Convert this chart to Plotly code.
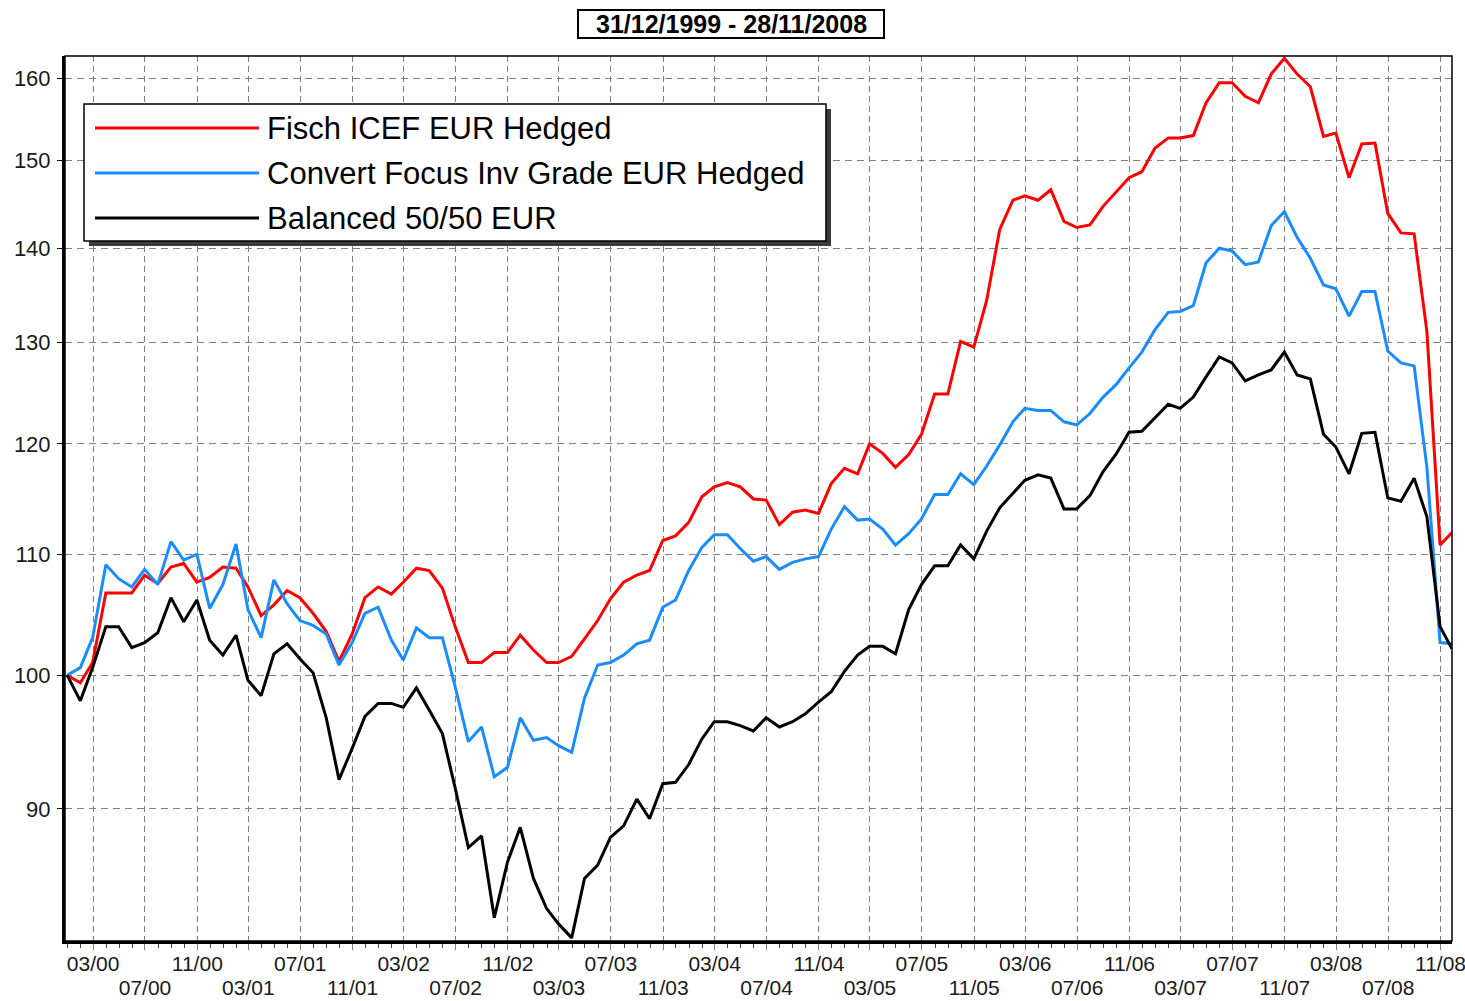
import calendar
import math
import plotly.graph_objects as go

# ---------------- data ----------------
# month-end dates 31/12/1999 .. 28/11/2008
dates = []
for yr in range(1999, 2009):
    for mo in range(1, 13):
        if (yr, mo) < (1999, 12) or (yr, mo) > (2008, 11):
            continue
        dates.append(f"{yr}-{mo:02d}-{calendar.monthrange(yr, mo)[1]:02d}")
dates[-1] = "2008-11-28"

fisch_icef = [
    100.0, 99.4, 101.0, 106.7, 106.7, 106.7, 108.2, 107.5, 108.9, 109.2, 107.6, 108.0,
    108.9, 108.8, 107.2, 104.8, 105.7, 106.9, 106.3, 105.0, 103.5, 101.1, 103.3, 106.3,
    107.2, 106.6, 107.6, 108.8, 108.6, 107.1, 103.9, 101.0, 101.0, 101.8, 101.8, 103.2,
    102.0, 101.0, 101.0, 101.5, 102.9, 104.4, 106.2, 107.6, 108.2, 108.6, 111.2, 111.6,
    112.8, 115.1, 116.0, 116.4, 116.0, 114.9, 114.8, 112.6, 113.7, 113.9, 113.6, 116.3,
    117.7, 117.2, 120.0, 119.1, 117.8, 119.0, 120.9, 124.8, 124.8, 130.1, 129.5, 134.3,
    142.1, 145.4, 145.9, 145.4, 146.6, 143.0, 142.3, 142.6, 144.7, 146.3, 148.0, 148.7,
    151.5, 152.7, 152.7, 153.0, 157.0, 159.5, 159.5, 157.8, 157.0, 160.6, 162.6, 160.6,
    159.0, 152.9, 153.3, 148.0, 152.0, 152.1, 143.9, 141.7, 141.6, 131.1, 110.8, 111.9,
]
convert_focus = [
    100.0, 100.6, 103.0, 109.1, 107.9, 107.2, 108.7, 107.4, 111.1, 109.5, 110.0, 105.4,
    107.4, 110.9, 105.3, 103.0, 107.8, 105.8, 104.4, 104.0, 103.3, 100.8, 102.6, 105.0,
    105.5, 102.8, 101.2, 103.8, 103.0, 103.0, 99.1, 94.9, 96.0, 92.3, 93.0, 96.7,
    95.0, 95.2, 94.6, 94.1, 98.2, 100.8, 101.0, 101.6, 102.5, 102.8, 105.5, 106.1,
    108.6, 110.6, 111.7, 111.7, 110.5, 109.4, 109.8, 108.7, 109.3, 109.6, 109.8, 112.2,
    114.2, 113.0, 113.1, 112.2, 110.8, 111.8, 113.1, 115.3, 115.3, 117.2, 116.2, 117.9,
    119.9, 122.1, 123.4, 123.2, 123.2, 122.1, 121.8, 122.9, 124.5, 125.7, 127.4, 129.0,
    131.3, 133.1, 133.2, 133.8, 138.4, 140.0, 139.7, 138.2, 138.5, 142.5, 144.1, 141.2,
    138.9, 136.0, 135.6, 132.7, 135.3, 135.3, 129.1, 127.9, 127.6, 117.8, 102.6, 102.5,
]
balanced = [
    100.0, 98.0, 100.6, 103.9, 103.9, 102.2, 102.6, 103.4, 106.3, 104.3, 106.1, 102.8,
    101.6, 103.2, 99.6, 98.4, 101.7, 102.5, 101.3, 100.2, 96.7, 92.1, 94.4, 96.8,
    97.8, 97.8, 97.5, 99.0, 97.3, 95.5, 91.5, 87.3, 88.1, 82.6, 86.3, 88.7,
    85.2, 83.2, 82.2, 81.3, 85.2, 86.1, 88.0, 88.8, 90.7, 89.3, 91.8, 91.9,
    93.2, 95.1, 96.4, 96.4, 96.1, 95.7, 96.7, 96.0, 96.4, 97.0, 97.9, 98.7,
    100.3, 101.6, 102.3, 102.3, 101.7, 105.3, 107.4, 109.0, 109.0, 110.8, 109.6, 112.0,
    114.1, 115.4, 116.6, 117.1, 116.8, 114.0, 114.0, 115.2, 117.4, 119.0, 121.1, 121.2,
    122.5, 123.8, 123.4, 124.5, 126.5, 128.5, 127.9, 126.1, 126.7, 127.2, 129.0, 126.7,
    126.3, 120.9, 119.7, 117.2, 121.0, 121.1, 115.0, 114.7, 116.8, 113.3, 103.9, 102.1,
]

series_names = ["Fisch ICEF EUR Hedged", "Convert Focus Inv Grade EUR Hedged", "Balanced 50/50 EUR"]
series_colors = ["#ff0000", "#1a8cff", "#000000"]

x_tick_labels = ["03/00", "07/00", "11/00", "03/01", "07/01", "11/01", "03/02", "07/02",
                 "11/02", "03/03", "07/03", "11/03", "03/04", "07/04", "11/04", "03/05",
                 "07/05", "11/05", "03/06", "07/06", "11/06", "03/07", "07/07", "11/07",
                 "03/08", "07/08", "11/08"]
x_tick_vals = ["20%s-%s-01" % (lab[3:], lab[:2]) for lab in x_tick_labels]
y_tick_vals = [90, 100, 110, 120, 130, 140, 150, 160]
title_text = "31/12/1999 - 28/11/2008"
x_range = ["1999-12-26", "2008-11-28"]

# ---------------- layout geometry (page pixel coords; body margin removed) ----------------
W, H = 1465, 1001
PLOT_L, PLOT_R, PLOT_T, PLOT_B = 65, 1452, 56, 941
L, T, R, B = PLOT_L, PLOT_T, W - PLOT_R, H - PLOT_B
PW, PH = PLOT_R - PLOT_L, PLOT_B - PLOT_T


def px(x):
    return (x - PLOT_L) / PW


def py(y):
    return (PLOT_B - y) / PH


FONT = "Liberation Sans, Arial, sans-serif"
GRID = "#808080"
TICKC = "#1a1a1a"

fig = go.Figure()
for name, vals, col in zip(series_names, [fisch_icef, convert_focus, balanced], series_colors):
    fig.add_trace(go.Scatter(x=dates, y=vals, name=name, mode="lines",
                             line=dict(color=col, width=3), showlegend=False))
# transparent copy bound to the second (label-row) x axis so that axis gets drawn
fig.add_trace(go.Scatter(x=dates, y=balanced, xaxis="x2", yaxis="y", mode="lines",
                         line=dict(color="rgba(0,0,0,0)", width=0), hoverinfo="skip",
                         showlegend=False))

row1 = [lab if i % 2 == 0 else "" for i, lab in enumerate(x_tick_labels)]
row2 = [lab if i % 2 == 1 else "" for i, lab in enumerate(x_tick_labels)]

fig.update_layout(
    width=W, height=H,
    margin=dict(l=L, r=R, t=T, b=B),
    paper_bgcolor="white", plot_bgcolor="white",
    font=dict(family=FONT, size=22, color=TICKC),
    xaxis=dict(
        type="date", range=x_range,
        tickmode="array", tickvals=x_tick_vals, ticktext=row1,
        showgrid=True, gridcolor=GRID, gridwidth=1, griddash="6px,4px",
        ticks="outside", ticklen=6, tickcolor=GRID, tickwidth=1,
        minor=dict(ticks="outside", ticklen=4, tickcolor="#444444", dtick="M1",
                   tick0="2000-01-01", showgrid=False),
        showline=True, linecolor="black", linewidth=3,
        zeroline=False, automargin=False, tickangle=0,
        tickfont=dict(family=FONT, size=21, color=TICKC),
        ticklabelstandoff=-4, ticklabeloverflow="allow",
    ),
    xaxis2=dict(
        type="date", range=x_range, overlaying="x", anchor="y",
        side="bottom", tickmode="array", tickvals=x_tick_vals, ticktext=row2,
        showgrid=False, ticks="outside", ticklen=6, tickcolor="rgba(0,0,0,0)",
        showline=False, zeroline=False, automargin=False, tickangle=0,
        tickfont=dict(family=FONT, size=21, color=TICKC),
        ticklabelstandoff=22, ticklabeloverflow="allow",
    ),
    yaxis=dict(
        type="log", range=[math.log10(81.1), math.log10(162.9)],
        tickmode="array", tickvals=y_tick_vals, ticktext=[str(v) for v in y_tick_vals],
        showgrid=True, gridcolor=GRID, gridwidth=1, griddash="7px,5px",
        ticks="outside", ticklen=5, tickcolor="black",
        showline=True, linecolor="black", linewidth=3,
        zeroline=False, automargin=False,
        tickfont=dict(family=FONT, size=22, color=TICKC),
        ticklabelstandoff=2,
    ),
)

shapes = []
# thin frame (top/right)
shapes.append(dict(type="rect", xref="paper", yref="paper", x0=0, x1=1, y0=0, y1=1,
                   line=dict(color="black", width=1.5), layer="above"))
# legend shadow + box
shapes.append(dict(type="rect", xref="paper", yref="paper",
                   x0=px(89), x1=px(831), y0=py(246), y1=py(109),
                   fillcolor="#3a3a3a", line=dict(width=0), layer="above"))
shapes.append(dict(type="rect", xref="paper", yref="paper",
                   x0=px(84), x1=px(826), y0=py(241), y1=py(104),
                   fillcolor="white", line=dict(color="black", width=1.5), layer="above"))
legend_rows = [128, 173, 218]
annotations = []
for name, col, yy in zip(series_names, series_colors, legend_rows):
    shapes.append(dict(type="line", xref="paper", yref="paper",
                       x0=px(95), x1=px(259), y0=py(yy), y1=py(yy),
                       line=dict(color=col, width=3), layer="above"))
    annotations.append(dict(xref="paper", yref="paper", x=px(265), y=py(yy),
                            xanchor="left", yanchor="middle", text=name, showarrow=False,
                            font=dict(family=FONT, size=31, color="black")))
# title box
shapes.append(dict(type="rect", xref="paper", yref="paper",
                   x0=px(578), x1=px(884), y0=py(38), y1=py(10),
                   fillcolor="white", line=dict(color="black", width=2), layer="above"))
annotations.append(dict(xref="paper", yref="paper", x=px(731), y=py(24),
                        xanchor="center", yanchor="middle", text="<b>" + title_text + "</b>",
                        showarrow=False, font=dict(family=FONT, size=25, color="black")))

fig.update_layout(shapes=shapes, annotations=annotations)
fig.write_html("out.html",
               config={"displayModeBar": False},
               post_script="document.body.style.margin='0';document.body.style.overflow='hidden';")
